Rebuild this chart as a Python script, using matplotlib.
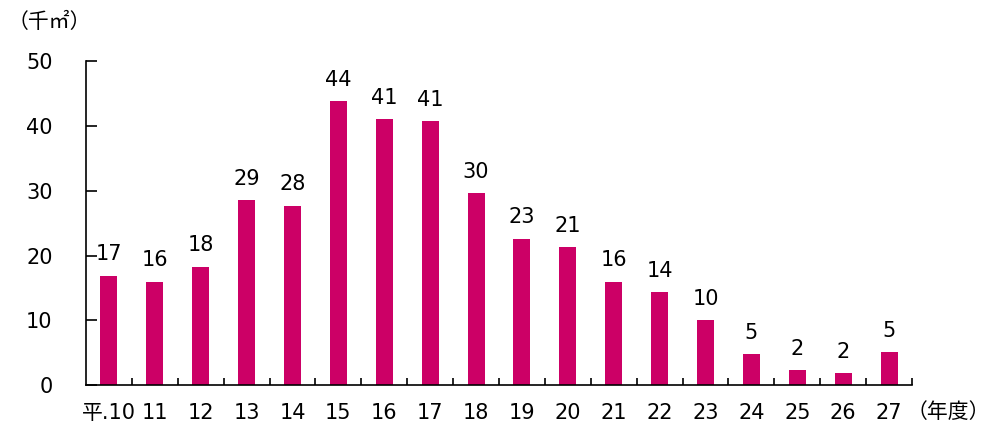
import numpy as np
import matplotlib
matplotlib.use('Agg')
import matplotlib.pyplot as plt

plt.rcParams['font.family'] = ['DejaVu Sans', 'Noto Sans CJK JP']

# 年度ごとの量 (千㎡)
years = ['平.10', '11', '12', '13', '14', '15', '16', '17', '18',
         '19', '20', '21', '22', '23', '24', '25', '26', '27']
values = [16.9, 15.95, 18.3, 28.6, 27.7, 43.8, 41.1, 40.7, 29.6,
          22.6, 21.3, 15.95, 14.3, 10.05, 4.8, 2.26, 1.8, 5.03]

bar_color = '#cc0066'
fs = 15

fig = plt.figure(figsize=(9.94, 4.25), dpi=100)
ax = fig.add_axes([0.0865, 0.094, 0.831, 0.762])

index = np.arange(len(years))
ax.bar(index, values, 0.37, color=bar_color)

for i, v in zip(index, values):
    ax.annotate('%d' % round(v), (i, v), xytext=(0, 11), textcoords='offset points',
                ha='center', va='baseline', fontsize=fs)

ax.set_xlim(-0.5, len(years) - 0.5)
ax.set_ylim(0, 50)
ax.set_yticks(range(0, 51, 10))
ax.set_xticks(index)
ax.set_xticklabels(years)
ax.set_xticks(np.arange(0.5, len(years), 1.0), minor=True)

ax.tick_params(axis='y', direction='in', length=8, width=1.2, pad=24, labelsize=fs)
ax.tick_params(axis='x', which='major', length=0, pad=13, labelsize=fs)
ax.tick_params(axis='x', which='minor', direction='in', length=5, width=1.2)

ax.spines['right'].set_color('none')
ax.spines['top'].set_color('none')
ax.spines['left'].set_linewidth(1.2)
ax.spines['bottom'].set_linewidth(1.2)

fig.text(0.008, 0.948, '（千㎡）', fontsize=fs, va='center', ha='left',
         family=['Noto Sans CJK JP', 'DejaVu Sans'])
fig.text(0.912, 0.031, '（年度）', fontsize=fs, va='center', ha='left',
         family=['Noto Sans CJK JP', 'DejaVu Sans'])

plt.savefig('out.png')
